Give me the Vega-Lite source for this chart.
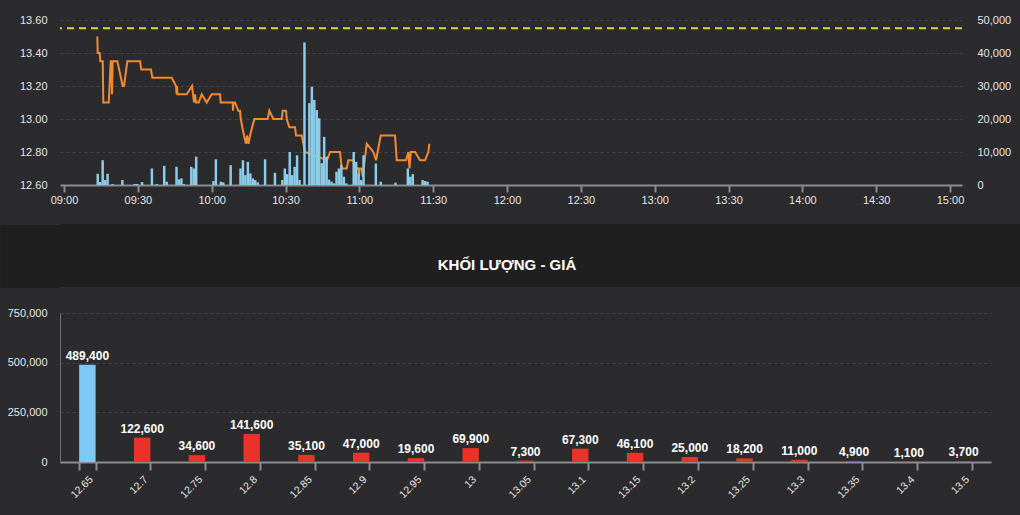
{
  "$schema": "https://vega.github.io/schema/vega-lite/v6.json",
  "background": "#2b2b2e",
  "padding": {"left": -32, "right": 0, "top": 14, "bottom": 14},
  "spacing": 19,
  "config": {
    "view": {"stroke": null},
    "font": "Liberation Sans",
    "axis": {"labelFont": "Liberation Sans", "labelColor": "#e6e6e6", "labelFontSize": 11, "title": null}
  },
  "datasets": {
    "gia": [
      {"t": "2024-01-01T09:13:32", "gia": 13.50},
      {"t": "2024-01-01T09:13:41", "gia": 13.40},
      {"t": "2024-01-01T09:14:30", "gia": 13.40},
      {"t": "2024-01-01T09:14:45", "gia": 13.35},
      {"t": "2024-01-01T09:15:44", "gia": 13.35},
      {"t": "2024-01-01T09:15:58", "gia": 13.10},
      {"t": "2024-01-01T09:18:10", "gia": 13.10},
      {"t": "2024-01-01T09:18:59", "gia": 13.35},
      {"t": "2024-01-01T09:19:13", "gia": 13.35},
      {"t": "2024-01-01T09:19:30", "gia": 13.15},
      {"t": "2024-01-01T09:19:47", "gia": 13.35},
      {"t": "2024-01-01T09:21:40", "gia": 13.35},
      {"t": "2024-01-01T09:23:51", "gia": 13.20},
      {"t": "2024-01-01T09:24:23", "gia": 13.20},
      {"t": "2024-01-01T09:25:43", "gia": 13.35},
      {"t": "2024-01-01T09:30:53", "gia": 13.35},
      {"t": "2024-01-01T09:31:25", "gia": 13.30},
      {"t": "2024-01-01T09:35:21", "gia": 13.30},
      {"t": "2024-01-01T09:35:53", "gia": 13.25},
      {"t": "2024-01-01T09:43:46", "gia": 13.25},
      {"t": "2024-01-01T09:45:31", "gia": 13.20},
      {"t": "2024-01-01T09:45:43", "gia": 13.15},
      {"t": "2024-01-01T09:45:55", "gia": 13.20},
      {"t": "2024-01-01T09:46:07", "gia": 13.15},
      {"t": "2024-01-01T09:49:52", "gia": 13.15},
      {"t": "2024-01-01T09:52:01", "gia": 13.20},
      {"t": "2024-01-01T09:52:49", "gia": 13.10},
      {"t": "2024-01-01T09:53:14", "gia": 13.15},
      {"t": "2024-01-01T09:53:38", "gia": 13.10},
      {"t": "2024-01-01T09:54:44", "gia": 13.10},
      {"t": "2024-01-01T09:55:57", "gia": 13.15},
      {"t": "2024-01-01T09:57:59", "gia": 13.10},
      {"t": "2024-01-01T10:00:01", "gia": 13.15},
      {"t": "2024-01-01T10:03:23", "gia": 13.15},
      {"t": "2024-01-01T10:03:40", "gia": 13.10},
      {"t": "2024-01-01T10:08:33", "gia": 13.10},
      {"t": "2024-01-01T10:08:40", "gia": 13.05},
      {"t": "2024-01-01T10:08:53", "gia": 13.10},
      {"t": "2024-01-01T10:09:29", "gia": 13.10},
      {"t": "2024-01-01T10:10:50", "gia": 13.05},
      {"t": "2024-01-01T10:11:31", "gia": 13.05},
      {"t": "2024-01-01T10:11:48", "gia": 13.00},
      {"t": "2024-01-01T10:13:08", "gia": 12.90},
      {"t": "2024-01-01T10:13:57", "gia": 12.85},
      {"t": "2024-01-01T10:14:22", "gia": 12.90},
      {"t": "2024-01-01T10:14:58", "gia": 12.85},
      {"t": "2024-01-01T10:15:35", "gia": 12.90},
      {"t": "2024-01-01T10:17:20", "gia": 13.00},
      {"t": "2024-01-01T10:22:46", "gia": 13.00},
      {"t": "2024-01-01T10:23:25", "gia": 13.05},
      {"t": "2024-01-01T10:25:03", "gia": 13.00},
      {"t": "2024-01-01T10:28:28", "gia": 13.00},
      {"t": "2024-01-01T10:28:52", "gia": 13.05},
      {"t": "2024-01-01T10:30:13", "gia": 13.05},
      {"t": "2024-01-01T10:30:29", "gia": 13.00},
      {"t": "2024-01-01T10:31:33", "gia": 12.95},
      {"t": "2024-01-01T10:33:52", "gia": 12.95},
      {"t": "2024-01-01T10:34:16", "gia": 12.90},
      {"t": "2024-01-01T10:36:35", "gia": 12.90},
      {"t": "2024-01-01T10:37:56", "gia": 12.80},
      {"t": "2024-01-01T10:46:52", "gia": 12.75},
      {"t": "2024-01-01T10:48:05", "gia": 12.80},
      {"t": "2024-01-01T10:52:09", "gia": 12.80},
      {"t": "2024-01-01T10:52:50", "gia": 12.70},
      {"t": "2024-01-01T10:54:52", "gia": 12.70},
      {"t": "2024-01-01T10:55:31", "gia": 12.75},
      {"t": "2024-01-01T10:57:33", "gia": 12.75},
      {"t": "2024-01-01T10:58:56", "gia": 12.70},
      {"t": "2024-01-01T10:59:40", "gia": 12.70},
      {"t": "2024-01-01T10:59:52", "gia": 12.65},
      {"t": "2024-01-01T11:00:04", "gia": 12.70},
      {"t": "2024-01-01T11:00:58", "gia": 12.70},
      {"t": "2024-01-01T11:01:22", "gia": 12.65},
      {"t": "2024-01-01T11:03:00", "gia": 12.85},
      {"t": "2024-01-01T11:05:41", "gia": 12.80},
      {"t": "2024-01-01T11:06:47", "gia": 12.75},
      {"t": "2024-01-01T11:08:41", "gia": 12.90},
      {"t": "2024-01-01T11:14:30", "gia": 12.90},
      {"t": "2024-01-01T11:15:11", "gia": 12.75},
      {"t": "2024-01-01T11:18:58", "gia": 12.75},
      {"t": "2024-01-01T11:19:54", "gia": 12.80},
      {"t": "2024-01-01T11:20:23", "gia": 12.70},
      {"t": "2024-01-01T11:20:53", "gia": 12.80},
      {"t": "2024-01-01T11:22:37", "gia": 12.80},
      {"t": "2024-01-01T11:24:40", "gia": 12.75},
      {"t": "2024-01-01T11:26:41", "gia": 12.75},
      {"t": "2024-01-01T11:28:02", "gia": 12.80},
      {"t": "2024-01-01T11:28:26", "gia": 12.85}
    ],
    "kl": [
      {"t": "2024-01-01T09:13:00", "kl": 3400},
      {"t": "2024-01-01T09:14:00", "kl": 900},
      {"t": "2024-01-01T09:15:00", "kl": 7500},
      {"t": "2024-01-01T09:16:00", "kl": 1500},
      {"t": "2024-01-01T09:17:00", "kl": 3400},
      {"t": "2024-01-01T09:19:00", "kl": 300},
      {"t": "2024-01-01T09:23:00", "kl": 1500},
      {"t": "2024-01-01T09:28:00", "kl": 300},
      {"t": "2024-01-01T09:29:00", "kl": 300},
      {"t": "2024-01-01T09:31:00", "kl": 900},
      {"t": "2024-01-01T09:35:00", "kl": 5000},
      {"t": "2024-01-01T09:37:00", "kl": 300},
      {"t": "2024-01-01T09:40:00", "kl": 5800},
      {"t": "2024-01-01T09:41:00", "kl": 1000},
      {"t": "2024-01-01T09:45:00", "kl": 5500},
      {"t": "2024-01-01T09:46:00", "kl": 1700},
      {"t": "2024-01-01T09:47:00", "kl": 2000},
      {"t": "2024-01-01T09:48:00", "kl": 300},
      {"t": "2024-01-01T09:51:00", "kl": 5500},
      {"t": "2024-01-01T09:52:00", "kl": 5000},
      {"t": "2024-01-01T09:53:00", "kl": 8600},
      {"t": "2024-01-01T10:00:00", "kl": 1200},
      {"t": "2024-01-01T10:01:00", "kl": 7800},
      {"t": "2024-01-01T10:03:00", "kl": 1000},
      {"t": "2024-01-01T10:04:00", "kl": 800},
      {"t": "2024-01-01T10:07:00", "kl": 6000},
      {"t": "2024-01-01T10:11:00", "kl": 5000},
      {"t": "2024-01-01T10:12:00", "kl": 7500},
      {"t": "2024-01-01T10:13:00", "kl": 3000},
      {"t": "2024-01-01T10:14:00", "kl": 7000},
      {"t": "2024-01-01T10:15:00", "kl": 3500},
      {"t": "2024-01-01T10:16:00", "kl": 2000},
      {"t": "2024-01-01T10:17:00", "kl": 1500},
      {"t": "2024-01-01T10:18:00", "kl": 800},
      {"t": "2024-01-01T10:21:00", "kl": 7800},
      {"t": "2024-01-01T10:25:00", "kl": 3700},
      {"t": "2024-01-01T10:28:00", "kl": 1500},
      {"t": "2024-01-01T10:29:00", "kl": 5000},
      {"t": "2024-01-01T10:30:00", "kl": 3300},
      {"t": "2024-01-01T10:31:00", "kl": 10000},
      {"t": "2024-01-01T10:32:00", "kl": 3000},
      {"t": "2024-01-01T10:33:00", "kl": 5500},
      {"t": "2024-01-01T10:34:00", "kl": 9000},
      {"t": "2024-01-01T10:35:00", "kl": 1500},
      {"t": "2024-01-01T10:37:00", "kl": 43200},
      {"t": "2024-01-01T10:39:00", "kl": 24800},
      {"t": "2024-01-01T10:40:00", "kl": 29800},
      {"t": "2024-01-01T10:41:00", "kl": 25800},
      {"t": "2024-01-01T10:42:00", "kl": 22700},
      {"t": "2024-01-01T10:43:00", "kl": 20200},
      {"t": "2024-01-01T10:44:00", "kl": 6600},
      {"t": "2024-01-01T10:45:00", "kl": 14600},
      {"t": "2024-01-01T10:46:00", "kl": 8600},
      {"t": "2024-01-01T10:47:00", "kl": 1600},
      {"t": "2024-01-01T10:48:00", "kl": 1000},
      {"t": "2024-01-01T10:49:00", "kl": 500},
      {"t": "2024-01-01T10:50:00", "kl": 4000},
      {"t": "2024-01-01T10:51:00", "kl": 5000},
      {"t": "2024-01-01T10:52:00", "kl": 6000},
      {"t": "2024-01-01T10:53:00", "kl": 2500},
      {"t": "2024-01-01T10:54:00", "kl": 500},
      {"t": "2024-01-01T10:57:00", "kl": 10000},
      {"t": "2024-01-01T10:58:00", "kl": 7000},
      {"t": "2024-01-01T10:59:00", "kl": 3500},
      {"t": "2024-01-01T11:00:00", "kl": 1500},
      {"t": "2024-01-01T11:01:00", "kl": 9000},
      {"t": "2024-01-01T11:06:00", "kl": 6500},
      {"t": "2024-01-01T11:08:00", "kl": 1000},
      {"t": "2024-01-01T11:14:00", "kl": 700},
      {"t": "2024-01-01T11:19:00", "kl": 5000},
      {"t": "2024-01-01T11:20:00", "kl": 2500},
      {"t": "2024-01-01T11:21:00", "kl": 3300},
      {"t": "2024-01-01T11:25:00", "kl": 1500},
      {"t": "2024-01-01T11:26:00", "kl": 1200},
      {"t": "2024-01-01T11:27:00", "kl": 1000}
    ],
    "klgia": [
      {"gia": "12.65", "kl": 489400},
      {"gia": "12.7", "kl": 122600},
      {"gia": "12.75", "kl": 34600},
      {"gia": "12.8", "kl": 141600},
      {"gia": "12.85", "kl": 35100},
      {"gia": "12.9", "kl": 47000},
      {"gia": "12.95", "kl": 19600},
      {"gia": "13", "kl": 69900},
      {"gia": "13.05", "kl": 7300},
      {"gia": "13.1", "kl": 67300},
      {"gia": "13.15", "kl": 46100},
      {"gia": "13.2", "kl": 25000},
      {"gia": "13.25", "kl": 18200},
      {"gia": "13.3", "kl": 11000},
      {"gia": "13.35", "kl": 4900},
      {"gia": "13.4", "kl": 1100},
      {"gia": "13.5", "kl": 3700}
    ]
  },
  "vconcat": [
    {
      "width": 902,
      "height": 165,
      "layer": [
        {
          "layer": [
            {
              "data": {"name": "gia"},
              "mark": {"type": "line", "color": "#f28a30", "strokeWidth": 2, "interpolate": "linear"},
              "encoding": {
                "x": {
                  "field": "t", "type": "temporal",
                  "scale": {"domain": [
                    {"year": 2024, "month": 1, "date": 1, "hours": 8, "minutes": 58, "seconds": 22},
                    {"year": 2024, "month": 1, "date": 1, "hours": 15, "minutes": 4, "seconds": 52}
                  ]},
                  "axis": {
                    "values": [
                      {"year": 2024, "month": 1, "date": 1, "hours": 9, "minutes": 0},
                      {"year": 2024, "month": 1, "date": 1, "hours": 9, "minutes": 30},
                      {"year": 2024, "month": 1, "date": 1, "hours": 10, "minutes": 0},
                      {"year": 2024, "month": 1, "date": 1, "hours": 10, "minutes": 30},
                      {"year": 2024, "month": 1, "date": 1, "hours": 11, "minutes": 0},
                      {"year": 2024, "month": 1, "date": 1, "hours": 11, "minutes": 30},
                      {"year": 2024, "month": 1, "date": 1, "hours": 12, "minutes": 0},
                      {"year": 2024, "month": 1, "date": 1, "hours": 12, "minutes": 30},
                      {"year": 2024, "month": 1, "date": 1, "hours": 13, "minutes": 0},
                      {"year": 2024, "month": 1, "date": 1, "hours": 13, "minutes": 30},
                      {"year": 2024, "month": 1, "date": 1, "hours": 14, "minutes": 0},
                      {"year": 2024, "month": 1, "date": 1, "hours": 14, "minutes": 30},
                      {"year": 2024, "month": 1, "date": 1, "hours": 15, "minutes": 0}
                    ],
                    "format": "%H:%M",
                    "grid": false,
                    "domainColor": "#8c8c8c", "domainWidth": 2,
                    "tickColor": "#8c8c8c", "tickWidth": 2, "tickSize": 7,
                    "labelPadding": 2, "labelFlush": false, "labelOverlap": false
                  }
                },
                "y": {
                  "field": "gia", "type": "quantitative",
                  "scale": {"domain": [12.6, 13.6], "zero": false, "nice": false},
                  "axis": {
                    "values": [12.6, 12.8, 13.0, 13.2, 13.4, 13.6],
                    "format": ".2f",
                    "grid": true, "gridColor": "#45454a", "gridDash": [3, 3], "gridWidth": 1,
                    "domain": false, "ticks": false,
                    "labelPadding": 13, "minExtent": 52,
                    "labelOverlap": false, "labelFlush": false
                  }
                }
              }
            },
            {
              "data": {"values": [{"tran": 13.55}]},
              "mark": {"type": "rule", "color": "#d6dc3c", "strokeWidth": 2, "strokeDash": [7, 5]},
              "encoding": {
                "y": {
                  "field": "tran", "type": "quantitative",
                  "scale": {"domain": [12.6, 13.6], "zero": false, "nice": false},
                  "axis": {
                    "values": [12.6, 12.8, 13.0, 13.2, 13.4, 13.6],
                    "format": ".2f",
                    "grid": true, "gridColor": "#45454a", "gridDash": [3, 3], "gridWidth": 1,
                    "domain": false, "ticks": false,
                    "labelPadding": 13, "minExtent": 52,
                    "labelOverlap": false, "labelFlush": false
                  }
                }
              }
            }
          ]
        },
        {
          "data": {"name": "kl"},
          "mark": {"type": "bar", "color": "#8ecdea", "binSpacing": 0},
          "encoding": {
            "x": {
              "field": "t", "type": "temporal", "timeUnit": "yearmonthdatehoursminutes",
              "scale": {"domain": [
                {"year": 2024, "month": 1, "date": 1, "hours": 8, "minutes": 58, "seconds": 22},
                {"year": 2024, "month": 1, "date": 1, "hours": 15, "minutes": 4, "seconds": 52}
              ]}
            },
            "y": {
              "field": "kl", "type": "quantitative",
              "scale": {"domain": [0, 50000], "nice": false},
              "axis": {
                "orient": "right",
                "values": [0, 10000, 20000, 30000, 40000, 50000],
                "format": ",d",
                "grid": false, "domain": false, "ticks": false,
                "labelPadding": 15, "labelOverlap": false, "labelFlush": false
              }
            }
          }
        }
      ],
      "resolve": {"scale": {"y": "independent"}}
    },
    {
      "width": 960,
      "height": 63,
      "view": {"fill": "#1f1f1f", "stroke": null},
      "data": {"values": [{"tieu_de": "KHỐI LƯỢNG - GIÁ"}]},
      "mark": {"type": "text", "fontSize": 15, "fontWeight": "bold", "color": "#ffffff", "font": "Liberation Sans", "dy": 9, "dx": -33},
      "encoding": {
        "text": {"field": "tieu_de", "type": "nominal"},
        "y": {
          "field": "tieu_de", "type": "nominal",
          "axis": {"labels": false, "domain": false, "grid": false, "tickSize": 60, "tickWidth": 63, "tickCap": "butt", "tickColor": "#1f1f1f", "minExtent": 0}
        }
      }
    },
    {
      "width": 931,
      "height": 149,
      "data": {"name": "klgia"},
      "encoding": {
        "x": {
          "field": "gia", "type": "nominal", "sort": null,
          "scale": {"paddingInner": 0.7, "paddingOuter": 0.35},
          "axis": {
            "tickBand": "extent",
            "tickSize": 8, "tickWidth": 2, "tickColor": "#8c8c8c",
            "domainColor": "#8c8c8c", "domainWidth": 2,
            "labelAngle": -45, "labelFontSize": 10.5, "labelPadding": 4
          }
        },
        "y": {
          "field": "kl", "type": "quantitative",
          "scale": {"domain": [0, 750000], "nice": false},
          "axis": {
            "values": [0, 250000, 500000, 750000],
            "format": ",d",
            "grid": true, "gridColor": "#45454a", "gridDash": [3, 3], "gridWidth": 1,
            "domain": true, "domainColor": "#6e6e6e", "domainWidth": 1,
            "ticks": false,
            "labelPadding": 13, "minExtent": 60,
            "labelOverlap": false, "labelFlush": false
          }
        }
      },
      "layer": [
        {
          "mark": {"type": "bar"},
          "encoding": {
            "color": {"condition": {"test": "datum.gia === '12.65'", "value": "#80c8f6"}, "value": "#e8322a"}
          }
        },
        {
          "mark": {"type": "text", "fontWeight": "bold", "fontSize": 12, "color": "#ffffff", "baseline": "alphabetic", "dy": -5, "font": "Liberation Sans"},
          "encoding": {"text": {"field": "kl", "type": "quantitative", "format": ",d"}}
        }
      ]
    }
  ]
}
